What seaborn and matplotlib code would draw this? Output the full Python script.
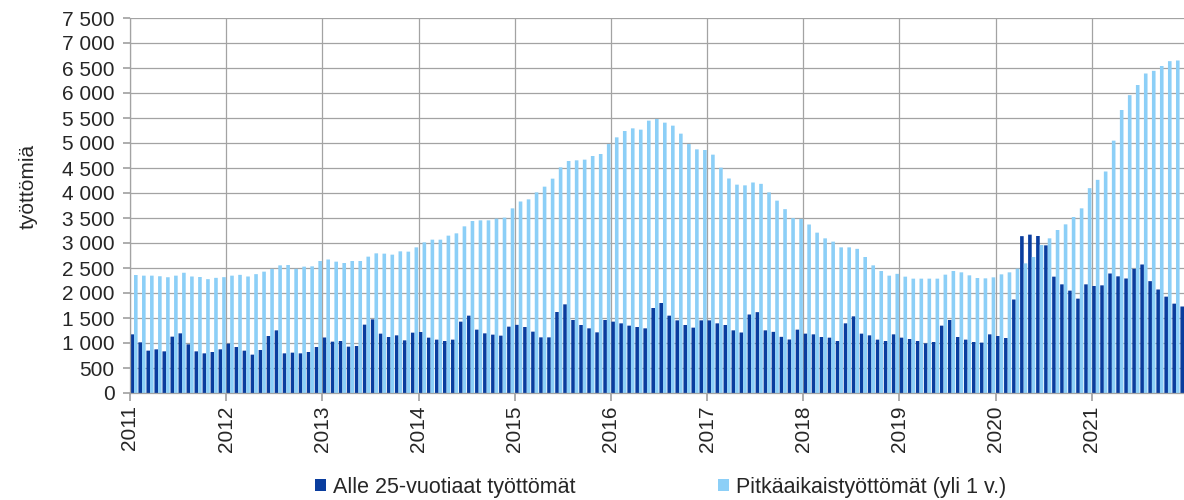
"""Nuorten ja pitkäaikaistyöttömien määrä kuukausittain 2011-2021"""

import matplotlib

matplotlib.use("Agg")

import matplotlib.pyplot as plt
import numpy as np
import pandas as pd
import seaborn as sns
from matplotlib.ticker import FuncFormatter, MultipleLocator

# Data, one value per month (Jan 2011 - Dec 2021)
years = list(range(2011, 2022))
series_names = ["Alle 25-vuotiaat työttömät", "Pitkäaikaistyöttömät (yli 1 v.)"]

alle_25 = [
    1173, 1013, 847, 873, 833, 1127, 1193, 973, 833, 793, 820, 873,
    987, 920, 847, 767, 860, 1140, 1253, 793, 807, 793, 820, 920,
    1110, 1027, 1040, 927, 940, 1367, 1473, 1187, 1120, 1153, 1053, 1207,
    1220, 1107, 1067, 1040, 1067, 1427, 1547, 1267, 1193, 1167, 1147, 1327,
    1363, 1320, 1227, 1113, 1113, 1620, 1773, 1460, 1360, 1293, 1213, 1460,
    1427, 1393, 1347, 1320, 1293, 1700, 1800, 1547, 1453, 1360, 1307, 1453,
    1453, 1393, 1360, 1253, 1210, 1570, 1617, 1253, 1223, 1123, 1070, 1267,
    1187, 1173, 1120, 1107, 1040, 1393, 1533, 1187, 1153, 1067, 1040, 1173,
    1107, 1080, 1040, 993, 1020, 1347, 1460, 1120, 1067, 1020, 1007, 1173,
    1140, 1100, 1870, 3137, 3167, 3140, 2953, 2327, 2173, 2047, 1887, 2173,
    2140, 2153, 2390, 2333, 2290, 2483, 2570, 2237, 2070, 1927, 1787, 1730,
]

pitkaaikaiset = [
    2360, 2347, 2347, 2335, 2315, 2347, 2405, 2330, 2320, 2277, 2303, 2317,
    2347, 2363, 2330, 2377, 2427, 2483, 2553, 2560, 2483, 2527, 2533, 2640,
    2670, 2627, 2600, 2640, 2640, 2727, 2793, 2787, 2767, 2833, 2827, 2913,
    3013, 3067, 3067, 3147, 3193, 3333, 3440, 3453, 3453, 3487, 3507, 3693,
    3830, 3873, 4013, 4127, 4287, 4513, 4640, 4653, 4667, 4740, 4780, 4980,
    5113, 5240, 5293, 5267, 5447, 5480, 5407, 5347, 5187, 4980, 4873, 4860,
    4767, 4507, 4290, 4167, 4153, 4210, 4183, 4013, 3847, 3677, 3497, 3483,
    3370, 3207, 3093, 3027, 2913, 2913, 2883, 2720, 2553, 2440, 2347, 2383,
    2327, 2287, 2287, 2287, 2287, 2367, 2440, 2413, 2353, 2300, 2293, 2313,
    2373, 2413, 2487, 2593, 2720, 2960, 3093, 3260, 3373, 3520, 3693, 4097,
    4263, 4430, 5047, 5660, 5957, 6160, 6390, 6443, 6540, 6637, 6650, 6660,
]

DARK = "#0a3d9e"
LIGHT = "#8ccff7"
GRID = "#a3a3a3"
FS = 15

months = [f"{y}-{m:02d}" for y in years for m in range(1, 13)]

df = pd.DataFrame(
    {
        "kuukausi": months * 2,
        "tyottomia": alle_25 + pitkaaikaiset,
        "sarja": [series_names[0]] * len(months) + [series_names[1]] * len(months),
    }
)

sns.set_theme(style="white")
plt.rcParams["font.family"] = ["Liberation Sans", "DejaVu Sans"]

fig = plt.figure(figsize=(11.84, 5.0), dpi=100)
ax = fig.add_axes([130 / 1184, 107 / 500, 1054 / 1184, 375 / 500])

sns.barplot(
    data=df,
    x="kuukausi",
    y="tyottomia",
    hue="sarja",
    order=months,
    hue_order=series_names,
    palette=[DARK, LIGHT],
    width=0.9,
    dodge=True,
    errorbar=None,
    saturation=1,
    linewidth=0,
    ax=ax,
)

# no pixel snapping, so the narrow bars keep their true width
for bar in ax.patches:
    bar.set_snap(False)

# Axis limits and ticks
ax.set_xlim(-0.5, len(months) - 1.0)
ax.set_ylim(0, 7500)
ax.yaxis.set_major_locator(MultipleLocator(500))
ax.yaxis.set_major_formatter(FuncFormatter(lambda v, _: f"{int(v):,}".replace(",", " ")))

year_pos = np.arange(len(years)) * 12 - 0.5
ax.set_xticks(year_pos)
ax.set_xticklabels([str(y) for y in years], rotation=90, fontsize=FS)
ax.tick_params(axis="y", labelsize=FS, length=5, color=GRID, pad=6, left=True)
ax.tick_params(axis="x", length=6, color=GRID, pad=3, bottom=True)

# Gridlines behind the bars
ax.set_axisbelow(True)
ax.grid(True, axis="both", color=GRID, linewidth=0.9)

for side in ["top", "right"]:
    ax.spines[side].set_visible(False)
for side in ["left", "bottom"]:
    ax.spines[side].set_color(GRID)
    ax.spines[side].set_linewidth(0.9)

ax.set_xlabel("")
ax.set_ylabel("työttömiä", fontsize=FS)
ax.yaxis.set_label_coords(-0.088, 0.55)

# Legend below the chart
handles, labels = ax.get_legend_handles_labels()
ax.get_legend().remove()
fig.legend(
    handles,
    labels,
    loc="center",
    bbox_to_anchor=(0.558, 0.026),
    ncol=2,
    frameon=False,
    fontsize=FS + 0.5,
    handlelength=0.5,
    handleheight=0.5,
    handletextpad=0.35,
    columnspacing=6.6,
)

plt.savefig("out.png", dpi=100)
